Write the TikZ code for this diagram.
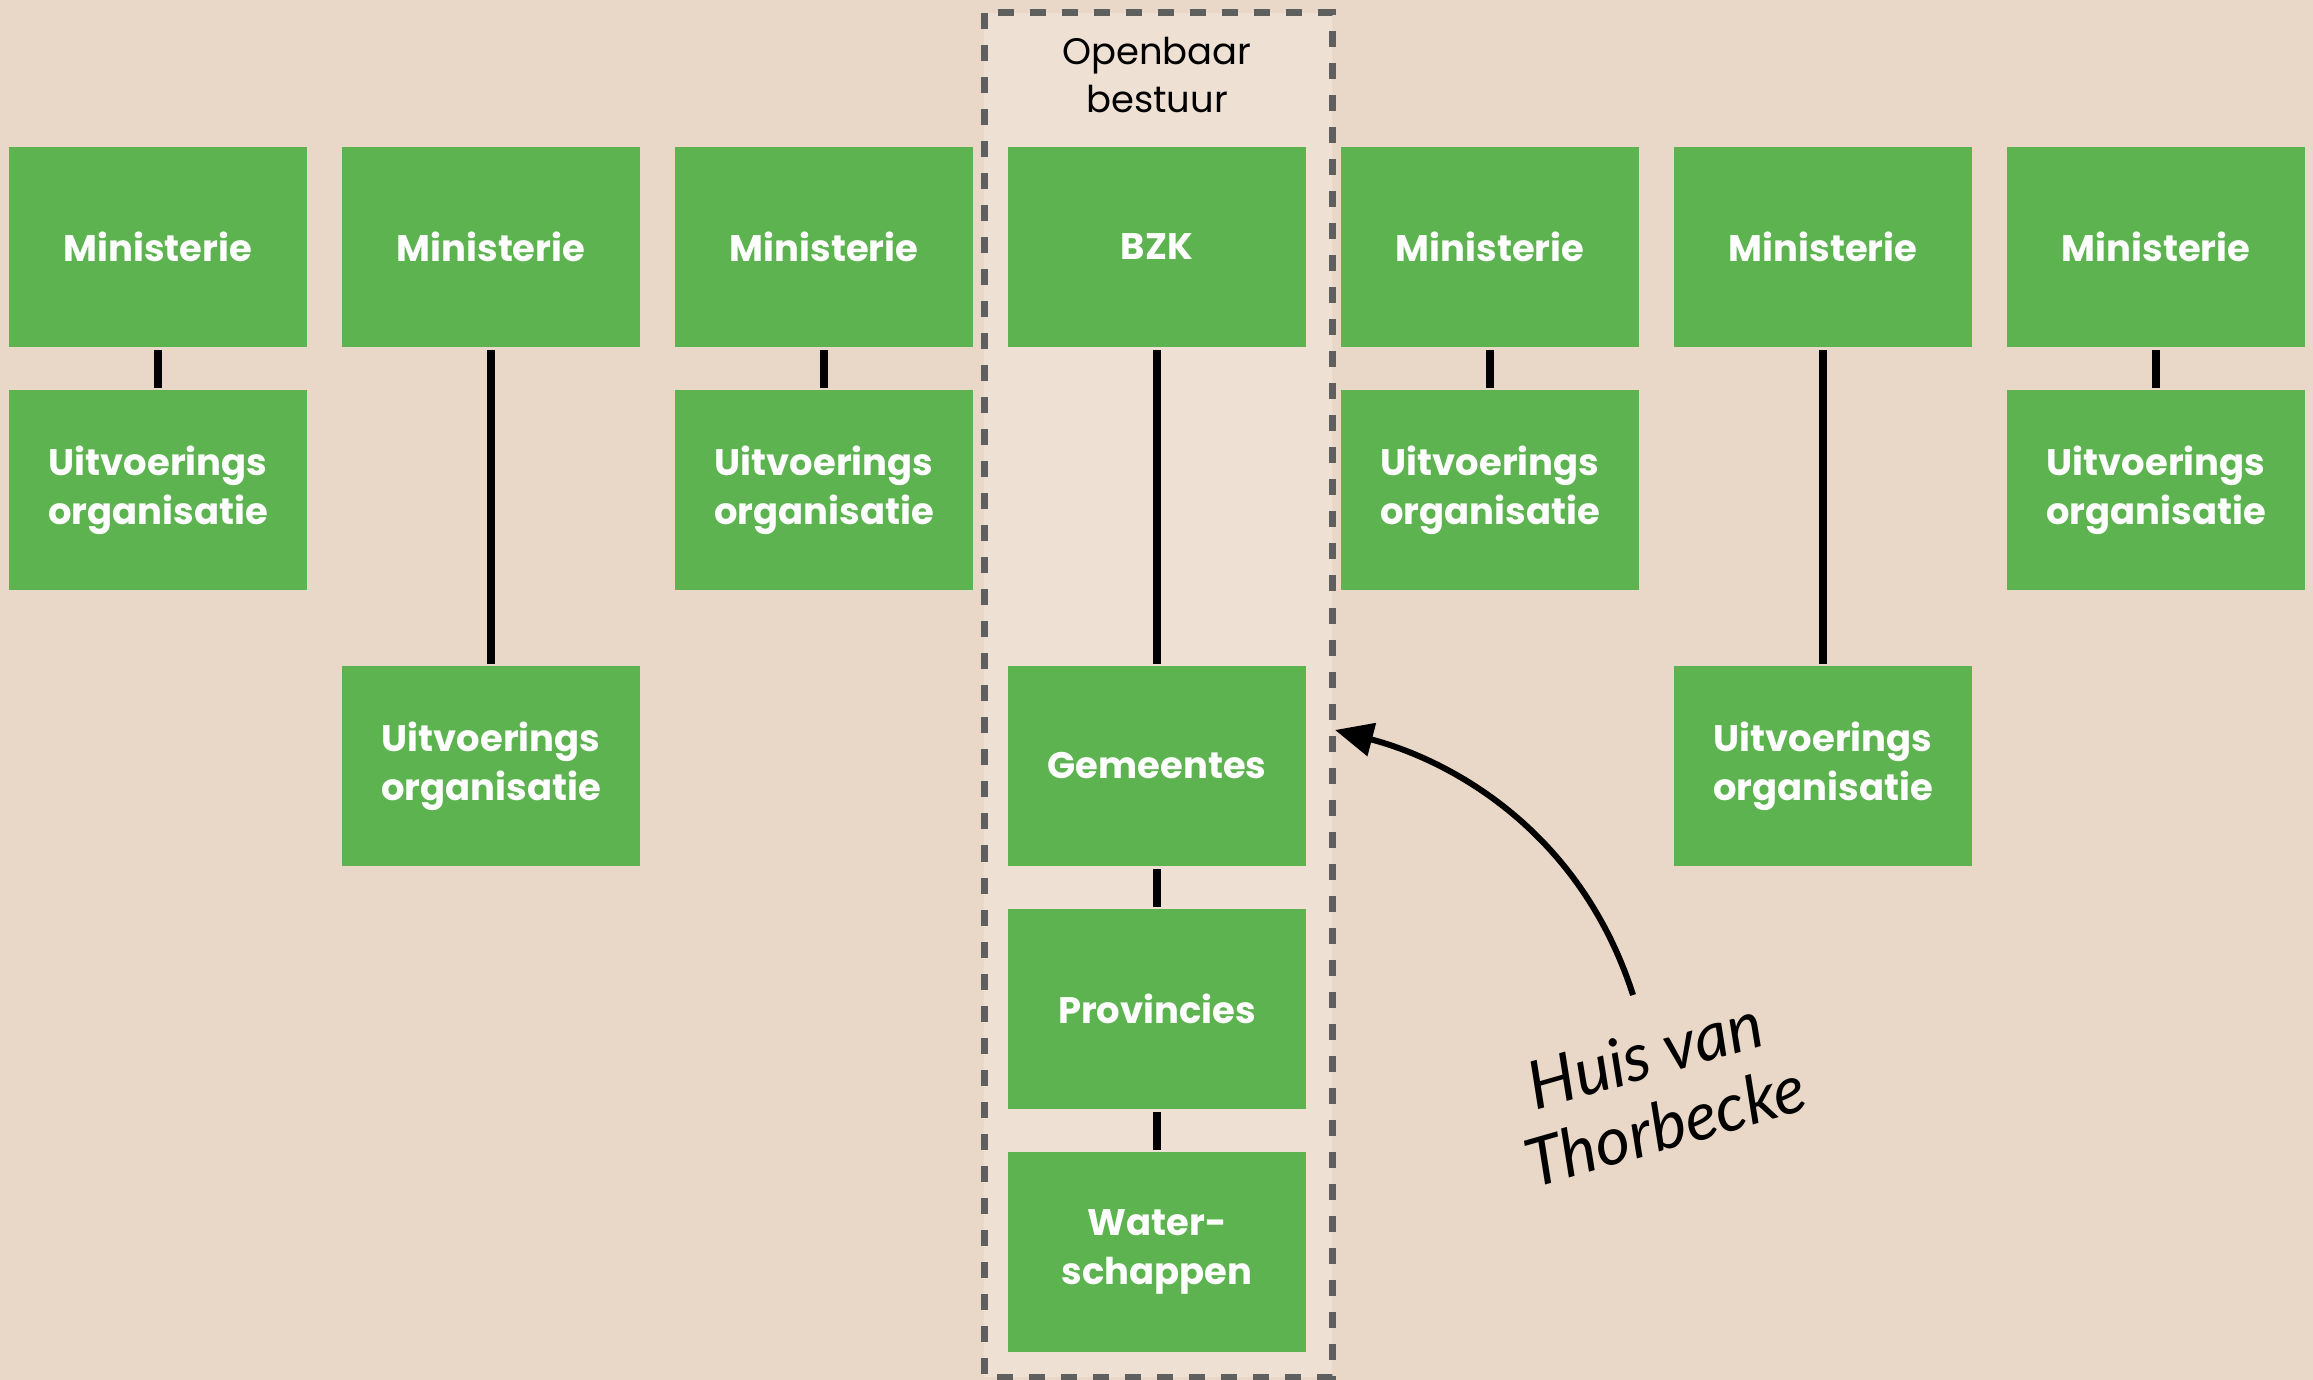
\documentclass[tikz,border=0pt]{standalone}
\usepackage{fontspec}
\setmainfont{Poppins}
\newfontfamily\handfont{Lato}
\usetikzlibrary{arrows.meta}
\definecolor{bgsand}{HTML}{E9D8C7}
\definecolor{bglight}{HTML}{EFE0D4}
\definecolor{boxgreen}{HTML}{5CB350}
\definecolor{framegray}{HTML}{5F5F5F}
\tikzset{
	orgbox/.style={fill=boxgreen, text=white, align=center,
		font=\bfseries\fontsize{10.5}{14}\selectfont,
		minimum width=2.98cm, minimum height=1.99cm, inner sep=0pt},
	link/.style={color=black, line width=0.08cm,
		shorten <=0.03cm, shorten >=0.02cm}
}

\begin{document}
\begin{tikzpicture}[x=0.01cm, y=-0.01cm]
	\fill[color=bgsand] (0,0) rectangle (2313,1380);
	\useasboundingbox (0,0) rectangle (2313,1380);
	
	\filldraw[fill=bglight, draw=framegray, line width=0.07cm,
		dash pattern=on 0.16cm off 0.16cm]
		(984,13) rectangle (1332,1377);
	
	\node[anchor=center, align=center, font=\fontsize{10.5}{13.4}\selectfont]
		(openbaar) at (1157,75) {Openbaar\\bestuur};
	
	\foreach \i in {0,2,4,6}{
		\node[orgbox] (min\i) at ({158+333*\i},247) {Ministerie};
		\node[orgbox] (uit\i) at ({158+333*\i},490) {Uitvoerings\\organisatie};
		\draw[link] (min\i) -- (uit\i);
	}
	
	\foreach \i in {1,5}{
		\node[orgbox] (min\i) at ({158+333*\i},247) {Ministerie};
		\node[orgbox] (uit\i) at ({158+333*\i},766) {Uitvoerings\\organisatie};
		\draw[link] (min\i) -- (uit\i);
	}
	
	\node[orgbox] (bzk) at (1157,247) {BZK};
	\node[orgbox] (gemeentes) at (1157,766) {Gemeentes};
	\node[orgbox] (provincies) at (1157,1009) {Provincies};
	\node[orgbox] (waterschappen) at (1157,1252) {Water-\\schappen};
	
	\draw[link] (bzk) -- (gemeentes);
	\draw[link] (gemeentes) -- (provincies);
	\draw[link] (provincies) -- (waterschappen);
	
	\coordinate (tail) at (1633,995);
	\coordinate (tip) at (1335,730);
	\draw[color=black, line width=0.06cm,
		-{Triangle[length=0.38cm, width=0.33cm]}]
		(tail) .. controls (1580,830) and (1450,760) .. (tip);
	
	\node[anchor=center, rotate=16, align=center,
		font=\handfont\itshape\fontsize{19}{21}\selectfont]
		(thorbecke) at (1655,1090) {Huis van\\Thorbecke};
\end{tikzpicture}
\end{document}
